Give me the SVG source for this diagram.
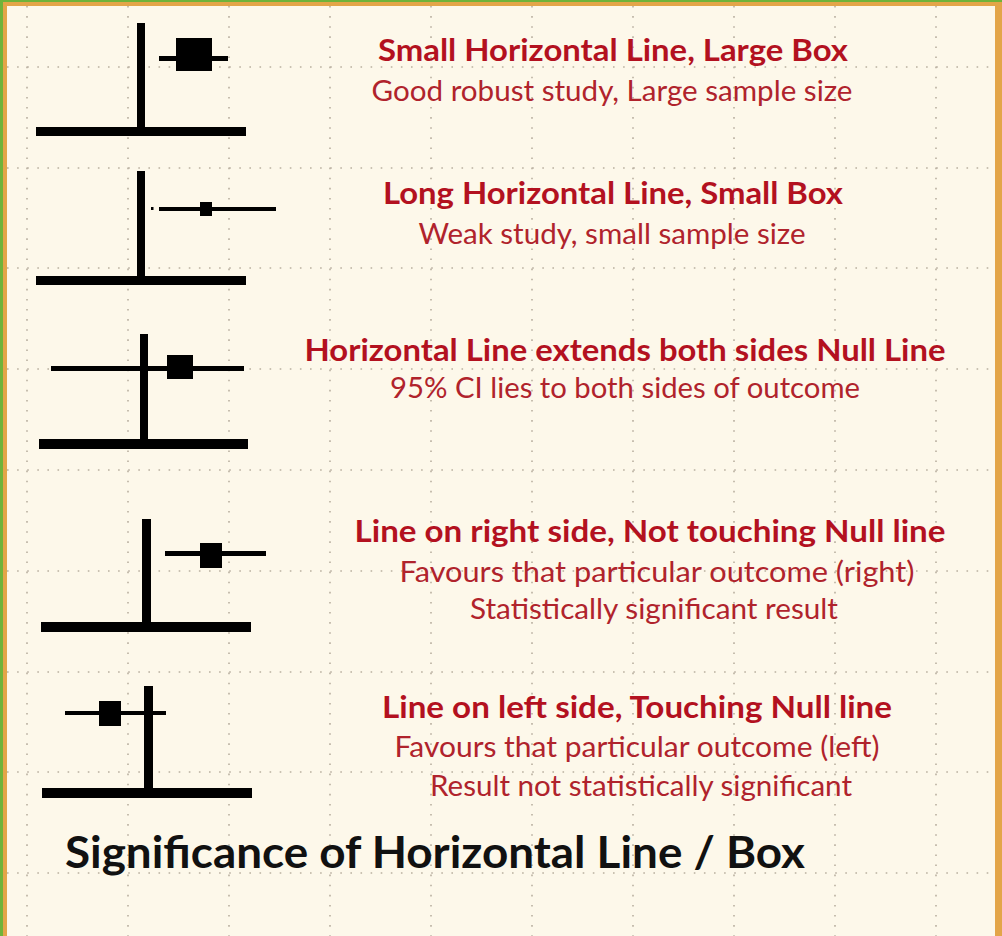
<svg xmlns="http://www.w3.org/2000/svg" width="1002" height="936" viewBox="0 0 1002 936">
  <style>
    .grid line { stroke: #b9b0a0; stroke-width: 1.6; stroke-dasharray: 1.6 8.5; }
    .ink { fill: #000; stroke: none; }
    .head { font-family: Lato, "Open Sans", sans-serif; font-weight: 700; font-size: 30px; fill: #b3111f; text-anchor: middle; }
    .sub { font-family: Lato, "Open Sans", sans-serif; font-weight: 400; font-size: 28px; fill: #b0232c; text-anchor: middle; }
    .title { font-family: Lato, "Open Sans", sans-serif; font-weight: 700; font-size: 43px; fill: #111; }
  </style>

  <!-- frame: green backdrop with orange border and cream sheet -->
  <rect x="0" y="0" width="1002" height="936" fill="#6fb33a"/>
  <rect x="3" y="2" width="999" height="934" fill="#e3a548"/>
  <rect x="7" y="6" width="988" height="930" fill="#fdf8ea"/>

  <!-- dotted grid -->
  <g class="grid">
    <line x1="27" y1="6" x2="27" y2="936"/>
    <line x1="128" y1="6" x2="128" y2="936"/>
    <line x1="229" y1="6" x2="229" y2="936"/>
    <line x1="330" y1="6" x2="330" y2="936"/>
    <line x1="431" y1="6" x2="431" y2="936"/>
    <line x1="532" y1="6" x2="532" y2="936"/>
    <line x1="633" y1="6" x2="633" y2="936"/>
    <line x1="734" y1="6" x2="734" y2="936"/>
    <line x1="835" y1="6" x2="835" y2="936"/>
    <line x1="936" y1="6" x2="936" y2="936"/>
    <line x1="7" y1="67" x2="995" y2="67"/>
    <line x1="7" y1="168" x2="995" y2="168"/>
    <line x1="7" y1="268" x2="995" y2="268"/>
    <line x1="7" y1="369" x2="995" y2="369"/>
    <line x1="7" y1="470" x2="995" y2="470"/>
    <line x1="7" y1="571" x2="995" y2="571"/>
    <line x1="7" y1="672" x2="995" y2="672"/>
    <line x1="7" y1="772" x2="995" y2="772"/>
    <line x1="7" y1="873" x2="995" y2="873"/>
  </g>

  <!-- forest-plot glyph 1: short line, large box -->
  <g id="plot-1" class="ink">
    <rect x="137" y="23" width="8" height="110"/>
    <rect x="36" y="127" width="210" height="9"/>
    <rect x="159" y="56" width="69" height="5"/>
    <rect x="176" y="38" width="36" height="33"/>
  </g>

  <!-- forest-plot glyph 2: long line, small box -->
  <g id="plot-2" class="ink">
    <rect x="137" y="171" width="8" height="110"/>
    <rect x="36" y="276" width="210" height="9"/>
    <rect x="151" y="207" width="2.5" height="3"/>
    <rect x="159" y="207" width="117" height="4"/>
    <rect x="200" y="202" width="12" height="14"/>
  </g>

  <!-- forest-plot glyph 3: line crossing the null line -->
  <g id="plot-3" class="ink">
    <rect x="140" y="334" width="8" height="112"/>
    <rect x="39" y="439" width="209" height="10"/>
    <rect x="51" y="366" width="193" height="5"/>
    <rect x="167" y="355" width="26" height="24"/>
  </g>

  <!-- forest-plot glyph 4: line right of the null line -->
  <g id="plot-4" class="ink">
    <rect x="142" y="519" width="9" height="112"/>
    <rect x="41" y="622" width="210" height="10"/>
    <rect x="165" y="551" width="101" height="5"/>
    <rect x="200" y="543" width="22" height="25"/>
  </g>

  <!-- forest-plot glyph 5: line left, touching the null line -->
  <g id="plot-5" class="ink">
    <rect x="144" y="686" width="9" height="110"/>
    <rect x="42" y="788" width="210" height="10"/>
    <rect x="65" y="711" width="101" height="4"/>
    <rect x="99" y="701" width="22" height="25"/>
  </g>

  <!-- captions -->
  <g id="caption-1">
    <text class="head" x="613" y="61" textLength="470" lengthAdjust="spacingAndGlyphs">Small Horizontal Line, Large Box</text>
    <text class="sub" x="612" y="101" textLength="481" lengthAdjust="spacingAndGlyphs">Good robust study, Large sample size</text>
  </g>
  <g id="caption-2">
    <text class="head" x="613" y="204" textLength="460" lengthAdjust="spacingAndGlyphs">Long Horizontal Line, Small Box</text>
    <text class="sub" x="612" y="244" textLength="387" lengthAdjust="spacingAndGlyphs">Weak study, small sample size</text>
  </g>
  <g id="caption-3">
    <text class="head" x="625" y="361" textLength="641" lengthAdjust="spacingAndGlyphs">Horizontal Line extends both sides Null Line</text>
    <text class="sub" x="625" y="398" textLength="470" lengthAdjust="spacingAndGlyphs">95% CI lies to both sides of outcome</text>
  </g>
  <g id="caption-4">
    <text class="head" x="650" y="542" textLength="591" lengthAdjust="spacingAndGlyphs">Line on right side, Not touching Null line</text>
    <text class="sub" x="657" y="582" textLength="515" lengthAdjust="spacingAndGlyphs">Favours that particular outcome (right)</text>
    <text class="sub" x="654" y="619" textLength="368" lengthAdjust="spacingAndGlyphs">Statistically significant result</text>
  </g>
  <g id="caption-5">
    <text class="head" x="637" y="718" textLength="510" lengthAdjust="spacingAndGlyphs">Line on left side, Touching Null line</text>
    <text class="sub" x="637" y="757" textLength="485" lengthAdjust="spacingAndGlyphs">Favours that particular outcome (left)</text>
    <text class="sub" x="641" y="796" textLength="422" lengthAdjust="spacingAndGlyphs">Result not statistically significant</text>
  </g>

  <text id="title" class="title" x="65" y="868" textLength="740" lengthAdjust="spacingAndGlyphs">Significance of Horizontal Line / Box</text>
</svg>
